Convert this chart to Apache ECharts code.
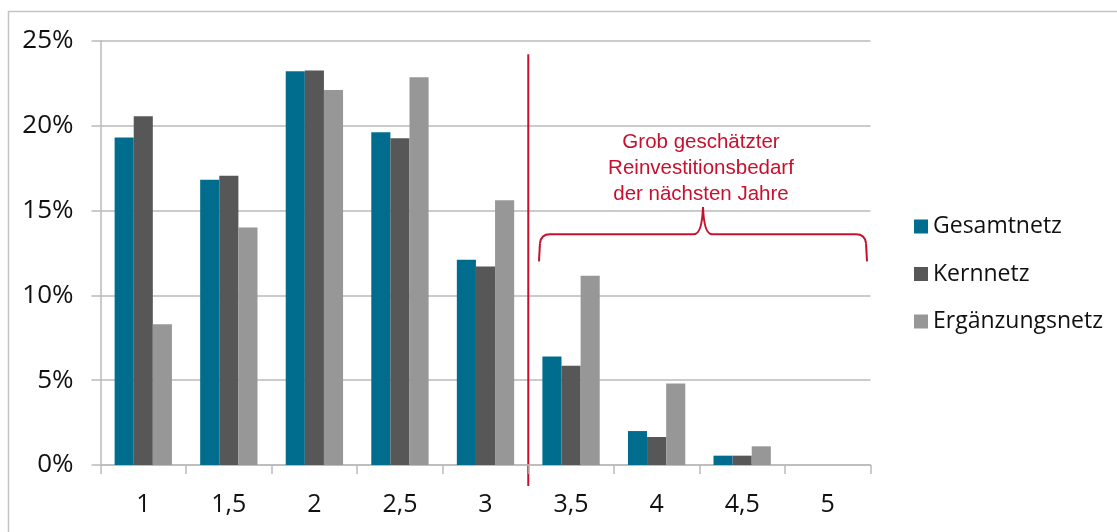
<!DOCTYPE html>
<html>
<head>
<meta charset="utf-8">
<title>Altersverteilung</title>
<script src="https://cdn.jsdelivr.net/npm/echarts@6/dist/echarts.min.js"></script>
<style>
  html, body { margin: 0; padding: 0; background: #ffffff; }
  #main { width: 1117px; height: 532px; }
</style>
</head>
<body>
<div id="main"></div>
<script>
// Kategorien der x-Achse
const categories = ['1', '1,5', '2', '2,5', '3', '3,5', '4', '4,5', '5'];

// Anteile in Prozent je Netzteil
const gesamtnetz      = [19.3, 16.8, 23.2, 19.6, 12.1, 6.4, 2.0, 0.55, 0];
const kernnetz        = [20.55, 17.05, 23.25, 19.25, 11.7, 5.85, 1.65, 0.55, 0];
const ergaenzungsnetz = [8.3, 14.0, 22.1, 22.85, 15.6, 11.15, 4.8, 1.1, 0];

// Beschriftung der y-Achse
const yTicks = { min: 0, max: 25, interval: 5 };

const seriesNames = ['Gesamtnetz', 'Kernnetz', 'Ergänzungsnetz'];
const seriesColors = ['#006d8f', '#575757', '#979797'];
const annotationText = 'Grob geschätzter\nReinvestitionsbedarf\nder nächsten Jahre';
const red = '#c8102e';
const gridGray = '#bababa';
const labelFont = '"Open Sans", "Noto Sans", sans-serif';

const chart = echarts.init(document.getElementById('main'));

const option = {
  animation: false,
  backgroundColor: '#ffffff',
  grid: { left: 100.5, right: 246.5, top: 40.7, bottom: 67, containLabel: false },
  legend: {
    orient: 'vertical',
    left: 909,
    top: 210,
    itemWidth: 14,
    itemHeight: 14,
    itemGap: 24.5,
    icon: 'rect',
    textStyle: { fontFamily: labelFont, fontSize: 23, color: '#111111', lineHeight: 20 },
    data: seriesNames
  },
  xAxis: {
    type: 'category',
    data: categories,
    axisLine: { show: true, lineStyle: { color: gridGray, width: 1.5 } },
    axisTick: { show: true, length: 9, alignWithLabel: false, lineStyle: { color: gridGray, width: 1.5 } },
    axisLabel: { fontFamily: labelFont, fontSize: 25, color: '#111111', margin: 27 },
    splitLine: { show: false }
  },
  yAxis: {
    type: 'value',
    min: yTicks.min,
    max: yTicks.max,
    interval: yTicks.interval,
    axisLine: { show: true, lineStyle: { color: gridGray, width: 1.5 } },
    axisTick: { show: true, length: 9, lineStyle: { color: gridGray, width: 1.5 } },
    axisLabel: { formatter: '{value}%', fontFamily: labelFont, fontSize: 26, color: '#111111', margin: 27 },
    splitLine: { show: true, lineStyle: { color: gridGray, width: 1.5 } }
  },
  series: [gesamtnetz, kernnetz, ergaenzungsnetz].map((values, i) => ({
    name: seriesNames[i],
    type: 'bar',
    data: values,
    barGap: '0%',
    barCategoryGap: '33%',
    itemStyle: { color: seriesColors[i] }
  }))
};

chart.setOption(option);

// Trennlinie, geschweifte Klammer und Hinweistext werden aus den Achsen abgeleitet
function drawAnnotation() {
  const px = (xi, yv) => chart.convertToPixel({ gridIndex: 0 }, [xi, yv]);
  const band = px(1, 0)[0] - px(0, 0)[0];
  const splitX = (px(4, 0)[0] + px(5, 0)[0]) / 2;
  const baseY = px(0, 0)[1];

  const left = splitX + 0.125 * band;
  const right = px(8, 0)[0] + 0.5 * band - 3.5;
  const mid = (left + right) / 2;
  const yLevel = px(0, 13.6)[1];
  const yEnd = px(0, 12.0)[1];
  const yPeak = px(0, 15.2)[1];
  const r = 9;

  const stroke = { fill: 'none', stroke: red, lineWidth: 2 };
  const seg = (id, x1, y1, x2, y2) => ({ id, type: 'line', silent: true, shape: { x1, y1, x2, y2 }, style: stroke });
  const curve = (id, x1, y1, cpx1, cpy1, x2, y2) => ({
    id, type: 'bezierCurve', silent: true,
    shape: { x1, y1, cpx1, cpy1, x2, y2 }, style: stroke
  });

  chart.setOption({
    graphic: [
      {
        id: 'frame',
        type: 'rect',
        silent: true,
        shape: { x: 8.5, y: 11.5, width: 1200, height: 600 },
        style: { fill: 'none', stroke: '#c4c4c4', lineWidth: 1.5 }
      },
      seg('splitLine', splitX, px(0, 24.2)[1], splitX, baseY + 21),
      // geschweifte Klammer über den Kategorien 3,5 bis 5
      seg('braceL1', left, yEnd, left + 1, yLevel + r),
      curve('braceL2', left + 1, yLevel + r, left + 2, yLevel, left + r + 2, yLevel),
      seg('braceL3', left + r + 2, yLevel, mid - 9, yLevel),
      curve('braceM1', mid - 9, yLevel, mid - 1, yLevel, mid, yPeak),
      curve('braceM2', mid, yPeak, mid + 1, yLevel, mid + 9, yLevel),
      seg('braceR3', mid + 9, yLevel, right - r - 2, yLevel),
      curve('braceR2', right - r - 2, yLevel, right - 2, yLevel, right - 1, yLevel + r),
      seg('braceR1', right - 1, yLevel + r, right, yEnd),
      {
        id: 'note',
        type: 'text',
        silent: true,
        x: mid - 2,
        y: px(0, 17.5)[1],
        style: {
          text: annotationText,
          fill: red,
          font: '20.5px "Liberation Sans", Arial, sans-serif',
          lineHeight: 26,
          align: 'center',
          verticalAlign: 'middle'
        }
      }
    ]
  });
}

drawAnnotation();
</script>
</body>
</html>
